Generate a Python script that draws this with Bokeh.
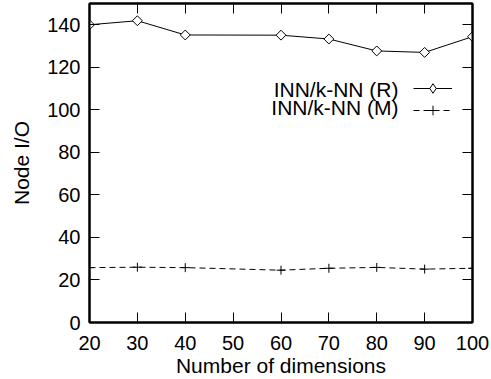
import math
from bokeh.plotting import figure
from bokeh.models import (LinearAxis, FixedTicker, Range1d, Legend, LegendItem, Label,
                          CustomLabelingPolicy)
from bokeh.embed import file_html
from bokeh.resources import INLINE

# data
dims = [20, 30, 40, 60, 70, 80, 90, 100]
inn_r = [140.0, 141.9, 135.2, 135.1, 133.3, 127.7, 127.0, 134.4]
inn_m = [25.8, 26.0, 25.8, 24.6, 25.5, 25.9, 25.1, 25.5]
x_ticks = [20, 30, 40, 50, 60, 70, 80, 90, 100]
y_ticks = [0, 20, 40, 60, 80, 100, 120, 140]
series_names = ["INN/k-NN (R)", "INN/k-NN (M)"]

FONT = "Liberation Sans"
W, H = 491, 379
FL, FR, FT, FB = 89, 472, 3, 322  # frame edges in px

p = figure(width=W, height=H, output_backend="svg", toolbar_location=None,
           x_range=Range1d(20, 100), y_range=Range1d(0, 150),
           min_border_left=FL, min_border_right=W - FR, min_border_top=FT,
           min_border_bottom=H - FB,
           x_axis_label="Number of dimensions", y_axis_label="Node I/O")
p.grid.visible = False
p.outline_line_color = "black"
p.outline_line_width = 2
p.background_fill_color = "white"
p.border_fill_color = "white"

for ax in p.xaxis:
    ax.ticker = FixedTicker(ticks=x_ticks)
for ax in p.yaxis:
    ax.ticker = FixedTicker(ticks=y_ticks)

for ax in list(p.xaxis) + list(p.yaxis):
    ax.major_tick_in = 10
    ax.major_tick_out = 0
    ax.minor_tick_in = 0
    ax.minor_tick_out = 0
    ax.axis_line_width = 2
    ax.major_tick_line_width = 1
    ax.major_label_text_font = FONT
    ax.major_label_text_font_size = "20px"
    ax.major_label_text_color = "black"
    ax.axis_label_text_font = FONT
    ax.axis_label_text_font_size = "21px"
    ax.axis_label_text_font_style = "normal"
    ax.axis_label_text_color = "black"

p.xaxis.major_label_standoff = 13
p.xaxis.axis_label_standoff = 1
p.yaxis.major_label_standoff = 9
p.yaxis.axis_label_standoff = 11

no_labels = "for (const i of indices) indices.unset(i)"

# mirror axes (ticks only)
def mirror(ticks):
    return LinearAxis(ticker=FixedTicker(ticks=ticks), major_tick_in=10, major_tick_out=0,
                      minor_tick_in=0, minor_tick_out=0, major_label_standoff=0,
                      major_label_text_font_size="0px", axis_line_width=2,
                      major_label_policy=CustomLabelingPolicy(code=no_labels))

p.add_layout(mirror(x_ticks), "above")
p.add_layout(mirror(y_ticks), "right")

r_line = p.line(dims, inn_r, line_color="black", line_width=1)
r_pts = p.scatter(dims, inn_r, marker="square", angle=math.pi / 4, size=7,
                  fill_color="white", line_color="black", line_width=1)
# legend-only sample marker (hidden in the plot)
r_key = p.scatter(dims, inn_r, marker="diamond", size=12, fill_color="white",
                  line_color="black", line_width=1, visible=False)
m_line = p.line(dims, inn_m, line_color="black", line_width=1, line_dash="6 4")
m_pts = p.scatter(dims, inn_m, marker="cross", size=9, line_color="black", line_width=1)

GH = 24
for renderers, cy in [([r_line, r_key], 88), ([m_line, m_pts], 110)]:
    lg = Legend(items=[LegendItem(label=" ", renderers=renderers)],
                location=(413 - FL, FB - (cy + GH // 2)), glyph_width=39, glyph_height=GH,
                label_height=GH, label_width=0, label_standoff=0, spacing=0, padding=0,
                margin=0, label_text_font_size="10px", border_line_color=None,
                background_fill_alpha=0, inactive_fill_alpha=0)
    p.add_layout(lg, "center")

for name, yy in zip(series_names, [89, 107]):
    p.add_layout(Label(x=398 - FL, y=FB - yy, x_units="screen", y_units="screen", text=name,
                       text_align="right", text_baseline="middle", text_font=FONT,
                       text_font_size="21px", text_color="black"))

open("out.html", "w").write(file_html(p, INLINE))
